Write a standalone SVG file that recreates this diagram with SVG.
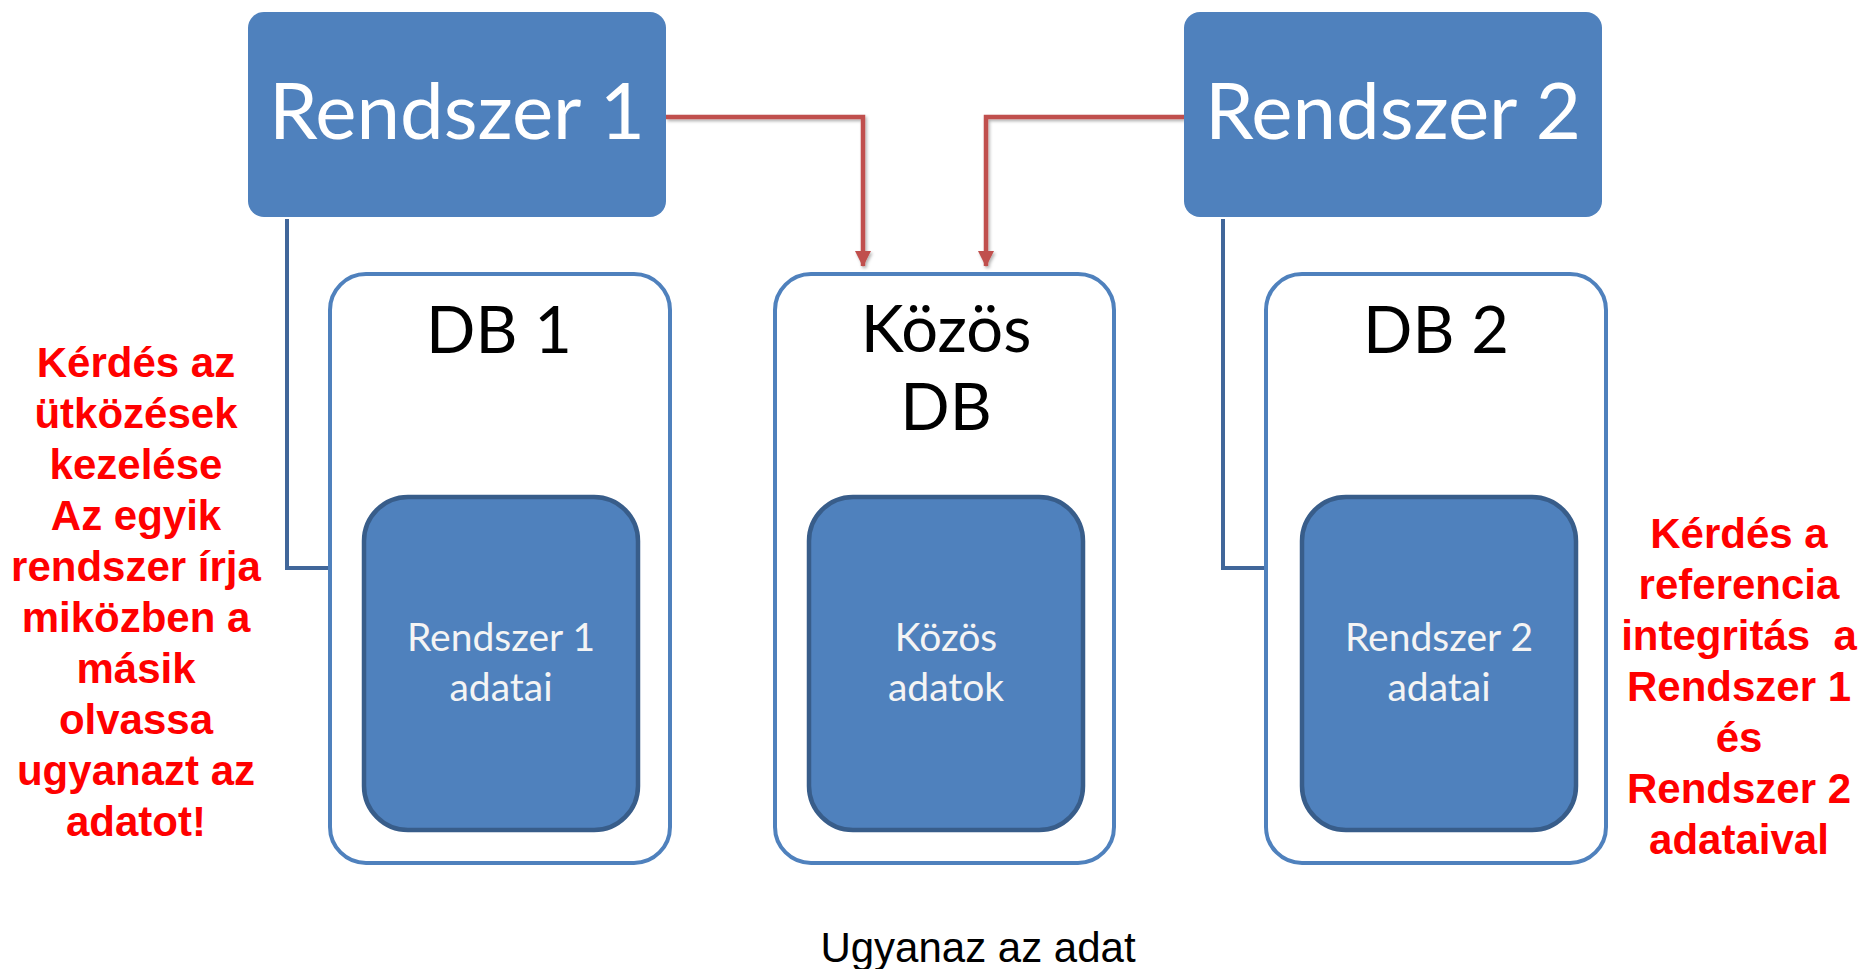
<svg xmlns="http://www.w3.org/2000/svg" width="1858" height="969" viewBox="0 0 1858 969">
<style>
.sys{fill:#4F81BD;}
.outer{fill:#FFFFFF;stroke:#4F81BD;stroke-width:4;}
.inner{fill:#4F81BD;stroke:#385D8A;stroke-width:4.5;}
.big{font-family:Lato,"Open Sans",sans-serif;font-size:78px;fill:#FFFFFF;text-anchor:middle;}
.db{font-family:Lato,"Open Sans",sans-serif;font-size:65px;fill:#000000;text-anchor:middle;}
.data{font-family:Lato,"Open Sans",sans-serif;font-size:39px;fill:#F4F4F4;text-anchor:middle;}
.note{font-family:"Liberation Sans",Arial,sans-serif;font-size:42px;font-weight:bold;fill:#FF0000;text-anchor:middle;white-space:pre;}
.cap{font-family:"Liberation Sans",Arial,sans-serif;font-size:42px;fill:#000000;text-anchor:middle;}
.red{fill:none;stroke:#C0504D;stroke-width:4.5;}
.blue{fill:none;stroke:#41679A;stroke-width:4;}
</style>
<defs>
<marker id="ah" markerWidth="16" markerHeight="16" refX="15" refY="8" orient="auto" markerUnits="userSpaceOnUse">
<path d="M0,0 L16,8 L0,16 Z" fill="#C0504D"/>
</marker>
<filter id="sh" x="-10%" y="-10%" width="130%" height="130%">
<feDropShadow dx="1.5" dy="2" stdDeviation="1.5" flood-color="#000" flood-opacity="0.3"/>
</filter>
</defs>
<g id="connectors">
<path class="red" d="M666,117 H863 V266" marker-end="url(#ah)" filter="url(#sh)"/>
<path class="red" d="M1184,117 H986 V266" marker-end="url(#ah)" filter="url(#sh)"/>
<path class="blue" d="M287,219 V568 H330"/>
<path class="blue" d="M1223,219 V568 H1266"/>
</g>
<g id="rendszer1">
<rect class="sys" x="248" y="12" width="418" height="205" rx="16"/>
<text class="big" x="457" y="139">Rendszer 1</text>
</g>
<g id="rendszer2">
<rect class="sys" x="1184" y="12" width="418" height="205" rx="16"/>
<text class="big" x="1393" y="139">Rendszer 2</text>
</g>
<g id="db1">
<rect class="outer" x="330" y="274" width="340" height="589" rx="36"/>
<text class="db" x="499" y="353">DB 1</text>
</g>
<g id="kozosdb">
<rect class="outer" x="775" y="274" width="339" height="589" rx="36"/>
<text class="db" x="946" y="352">Közös</text>
<text class="db" x="946" y="430">DB</text>
</g>
<g id="db2">
<rect class="outer" x="1266" y="274" width="340" height="589" rx="36"/>
<text class="db" x="1436" y="353">DB 2</text>
</g>
<g id="rendszer1-adatai">
<rect class="inner" x="364" y="497" width="274" height="333" rx="44"/>
<text class="data" x="501" y="651">Rendszer 1</text>
<text class="data" x="501" y="701">adatai</text>
</g>
<g id="kozos-adatok">
<rect class="inner" x="809" y="497" width="274" height="333" rx="44"/>
<text class="data" x="946" y="651">Közös</text>
<text class="data" x="946" y="701">adatok</text>
</g>
<g id="rendszer2-adatai">
<rect class="inner" x="1302" y="497" width="274" height="333" rx="44"/>
<text class="data" x="1439" y="651">Rendszer 2</text>
<text class="data" x="1439" y="701">adatai</text>
</g>
<g id="note-left">
<text class="note" x="136" y="377">Kérdés az</text>
<text class="note" x="136" y="428">ütközések</text>
<text class="note" x="136" y="479">kezelése</text>
<text class="note" x="136" y="530">Az egyik</text>
<text class="note" x="136" y="581">rendszer írja</text>
<text class="note" x="136" y="632">miközben a</text>
<text class="note" x="136" y="683">másik</text>
<text class="note" x="136" y="734">olvassa</text>
<text class="note" x="136" y="785">ugyanazt az</text>
<text class="note" x="136" y="836">adatot!</text>
</g>
<g id="note-right">
<text class="note" x="1739" y="548">Kérdés a</text>
<text class="note" x="1739" y="599">referencia</text>
<text class="note" x="1739" y="650">integritás  a</text>
<text class="note" x="1739" y="701">Rendszer 1</text>
<text class="note" x="1739" y="752">és</text>
<text class="note" x="1739" y="803">Rendszer 2</text>
<text class="note" x="1739" y="854">adataival</text>
</g>
<g id="caption">
<text class="cap" x="978" y="962">Ugyanaz az adat</text>
</g>
</svg>
